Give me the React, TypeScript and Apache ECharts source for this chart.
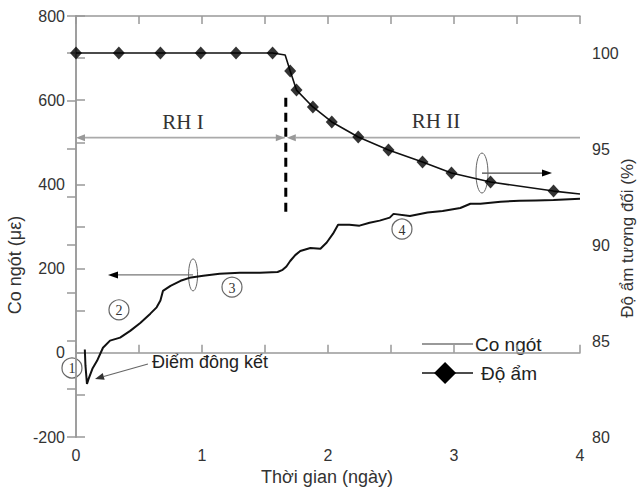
import React, { useEffect, useRef } from 'react';
import * as echarts from 'echarts';

const FONT = '"Liberation Sans", Arial, sans-serif';
const SERIF = '"Liberation Serif", "Times New Roman", serif';

// Shrinkage (left axis, µε) vs time (days)
const shrinkDays = [0.07, 0.075, 0.087, 0.1, 0.13, 0.167, 0.214, 0.27, 0.35, 0.43, 0.51, 0.59, 0.64, 0.67, 0.69, 0.75, 0.83, 0.9, 1.01, 1.14, 1.3, 1.46, 1.6, 1.64, 1.67, 1.7, 1.74, 1.78, 1.86, 1.94, 1.99, 2.04, 2.08, 2.17, 2.25, 2.33, 2.41, 2.49, 2.52, 2.65, 2.79, 2.91, 3.05, 3.13, 3.21, 3.37, 3.52, 3.65, 3.79, 4.0];
const shrinkValues = [8, -30, -74, -62, -38, -19, 12, 29, 36, 52, 71, 93, 108, 124, 147, 159, 171, 178, 183, 188, 190, 190, 192, 197, 205, 218, 232, 242, 249, 247, 262, 283, 304, 304, 302, 309, 314, 321, 330, 325, 333, 337, 344, 354, 354, 359, 361, 362, 363, 366];

// Relative humidity (right axis, %) line
const humidityDays = [0, 0.34, 0.67, 0.99, 1.27, 1.56, 1.66, 1.7, 1.75, 1.88, 2.03, 2.24, 2.48, 2.75, 2.98, 3.29, 3.79, 4.0];
const humidityValues = [100, 100, 100, 100, 100, 100, 99.9, 99.06, 98.07, 97.19, 96.41, 95.63, 94.95, 94.32, 93.75, 93.28, 92.81, 92.66];

// Humidity measurement markers (diamonds)
const markerDays = [0, 0.34, 0.67, 0.99, 1.27, 1.56, 1.7, 1.75, 1.88, 2.03, 2.24, 2.48, 2.75, 2.98, 3.29, 3.79];
const markerValues = [100, 100, 100, 100, 100, 100, 99.06, 98.07, 97.19, 96.41, 95.63, 94.95, 94.32, 93.75, 93.28, 92.81];

const xLabels = ['0', '1', '2', '3', '4'];
const leftLabels = ['-200', '0', '200', '400', '600', '800'];
const rightLabels = ['80', '85', '90', '95', '100'];

const seriesNames = ['Co ngót', 'Độ ẩm'];
const axisNames = ['Thời gian (ngày)', 'Co ngót (με)', 'Độ ẩm tương đối (%)'];

const AX = '#999';

function arrow(x1: number, y1: number, x2: number, y2: number, head: string, line: string, lw: number, len = 9, half = 3.5) {
  const dx = x2 - x1, dy = y2 - y1;
  const L = Math.hypot(dx, dy) || 1;
  const ux = dx / L, uy = dy / L;
  const bx = x2 - ux * len, by = y2 - uy * len;
  const px = -uy * half, py = ux * half;
  return [
    { type: 'line', silent: true, shape: { x1, y1, x2: bx, y2: by }, style: { stroke: line, lineWidth: lw } },
    { type: 'polygon', silent: true, shape: { points: [[x2, y2], [bx + px, by + py], [bx - px, by - py]] }, style: { fill: head } },
  ];
}

export default function App() {
  const ref = useRef<HTMLDivElement>(null);
  useEffect(() => {
    const chart = echarts.init(ref.current!, null, { renderer: 'svg' });
    const tickStyle = { color: AX, width: 1.5 };
    const option: any = {
      animation: false,
      backgroundColor: '#fff',
      grid: { left: 76, right: 57, top: 16, bottom: 52 },
      xAxis: [
        {
          type: 'value', min: 0, max: 4, interval: 0.5, position: 'bottom',
          axisLine: { show: true, lineStyle: tickStyle },
          axisTick: { show: true, inside: true, length: 8, lineStyle: tickStyle },
          axisLabel: {
            margin: 10, fontSize: 16, color: '#333', fontFamily: FONT,
            formatter: (v: number) => (Number.isInteger(v) && xLabels.includes(String(v)) ? String(v) : ''),
          },
          splitLine: { show: false },
        },
        {
          type: 'value', min: 0, max: 4, interval: 0.5, position: 'top',
          axisLine: { show: true, lineStyle: tickStyle },
          axisTick: { show: true, inside: true, length: 8, lineStyle: tickStyle },
          axisLabel: { show: false },
          splitLine: { show: false },
        },
      ],
      yAxis: [
        {
          type: 'value', min: -200, max: 800, interval: 100, position: 'left',
          axisLine: { show: true, lineStyle: tickStyle },
          axisTick: { show: true, inside: true, length: 9, lineStyle: tickStyle },
          axisLabel: {
            margin: 11, fontSize: 16, color: '#333', fontFamily: FONT,
            formatter: (v: number) => (leftLabels.includes(String(v)) ? String(v) : ''),
          },
          splitLine: { show: false },
        },
        {
          type: 'value', min: 80, max: 101.93, interval: 2.5, position: 'right',
          axisLine: { show: true, lineStyle: tickStyle },
          axisTick: { show: true, inside: true, length: 9, lineStyle: tickStyle },
          axisLabel: {
            margin: 12, fontSize: 16, color: '#333', fontFamily: FONT,
            formatter: (v: number) => (rightLabels.includes(String(v)) ? String(v) : ''),
          },
          splitLine: { show: false },
        },
      ],
      series: [
        {
          name: seriesNames[0], type: 'line', xAxisIndex: 0, yAxisIndex: 0,
          data: shrinkDays.map((d, i) => [d, shrinkValues[i]]),
          showSymbol: false, symbol: 'none',
          lineStyle: { color: '#111', width: 2 }, z: 3,
        },
        {
          name: seriesNames[1], type: 'line', xAxisIndex: 0, yAxisIndex: 1,
          data: humidityDays.map((d, i) => [d, humidityValues[i]]),
          showSymbol: false, symbol: 'none',
          lineStyle: { color: '#111', width: 1.6 }, z: 3,
        },
        {
          name: seriesNames[1] + ' ', type: 'scatter', xAxisIndex: 0, yAxisIndex: 1,
          data: markerDays.map((d, i) => [d, markerValues[i]]),
          symbol: 'diamond', symbolSize: [12, 13],
          itemStyle: { color: '#000' }, z: 4, clip: false,
        },
      ],
    };
    chart.setOption(option);

    const P = (d: number, v: number) => chart.convertToPixel({ xAxisIndex: 0, yAxisIndex: 0 }, [d, v]) as number[];
    const els: any[] = [];

    // vertical dashed line (change of RH regime)
    const [dx1, dy1] = P(1.665, 606);
    const [, dy2] = P(1.665, 330);
    els.push({ type: 'line', silent: true, shape: { x1: dx1, y1: dy1, x2: dx1, y2: dy2 }, style: { stroke: '#000', lineWidth: 3, lineDash: [9, 6] } });

    // RH I / RH II double arrows
    const [ax0, ay] = P(0, 511);
    const [axm] = P(1.665, 511);
    const [ax4] = P(4, 511);
    els.push(...arrow(axm - 1, ay, ax0, ay, '#999', '#aaa', 1.8, 9, 3.5));
    els.push(...arrow(ax0, ay, axm - 1, ay, '#999', '#aaa', 1.8, 9, 3.5).slice(1));
    els.push(...arrow(ax4, ay, axm + 1, ay, '#999', '#aaa', 1.8, 9, 3.5));

    const [r1x, r1y] = P(0.849, 548);
    const [r2x, r2y] = P(2.857, 550);
    els.push({ type: 'text', silent: true, x: r1x, y: r1y, style: { text: 'RH I', font: `21px ${SERIF}`, fill: '#333', align: 'center', verticalAlign: 'middle' } });
    els.push({ type: 'text', silent: true, x: r2x, y: r2y, style: { text: 'RH II', font: `21px ${SERIF}`, fill: '#333', align: 'center', verticalAlign: 'middle' } });

    // ellipse + arrow for humidity -> right axis
    const [e1x, e1y] = P(3.222, 427);
    const [t1x] = P(3.778, 427);
    els.push(...arrow(e1x, e1y, t1x, e1y, '#000', '#444', 1.3, 10, 3.5));
    els.push({ type: 'ellipse', silent: true, shape: { cx: e1x, cy: e1y, rx: 6, ry: 20 }, style: { fill: 'none', stroke: '#666', lineWidth: 1 } });

    // ellipse + arrow for shrinkage -> left axis
    const [e2x, e2y] = P(0.929, 185);
    const [t2x] = P(0.254, 185);
    els.push(...arrow(e2x, e2y, t2x, e2y, '#000', '#777', 1.3, 10, 3.5));
    els.push({ type: 'ellipse', silent: true, shape: { cx: e2x, cy: e2y, rx: 4.5, ry: 16 }, style: { fill: 'none', stroke: '#666', lineWidth: 1 } });

    // Setting point annotation
    const [sx, sy] = P(0.603, -22);
    els.push({ type: 'text', silent: true, x: sx, y: sy, style: { text: 'Điểm đông kết', font: `18px ${FONT}`, fill: '#222', align: 'left', verticalAlign: 'middle' } });
    const [fa1x, fa1y] = P(0.571, -26.6);
    const [fa2x, fa2y] = P(0.151, -62);
    els.push(...arrow(fa1x, fa1y, fa2x, fa2y, '#333', '#666', 1.2, 9, 3.5));

    // circled stage numbers
    const stages: [string, number, number][] = [['1', -0.032, -36], ['2', 0.341, 102], ['3', 1.238, 156], ['4', 2.587, 294]];
    stages.forEach(([t, d, v]) => {
      const [cx, cy] = P(d, v);
      els.push({ type: 'circle', silent: true, shape: { cx, cy, r: 10 }, style: { fill: 'none', stroke: '#666', lineWidth: 1.2 } });
      els.push({ type: 'text', silent: true, x: cx, y: cy + 1, style: { text: t, font: `14px ${SERIF}`, fill: '#333', align: 'center', verticalAlign: 'middle' } });
    });

    // legend
    const [lx1, ly1] = P(2.746, 20.9);
    const [lx2] = P(3.151, 20.9);
    const [, ly2] = P(2.746, -48);
    const [ldx] = P(2.929, 0);
    els.push({ type: 'line', silent: true, shape: { x1: lx1, y1: ly1, x2: lx2, y2: ly1 }, style: { stroke: '#999', lineWidth: 2 } });
    els.push({ type: 'text', silent: true, x: lx2 + 2, y: ly1, style: { text: seriesNames[0], font: `19px ${FONT}`, fill: '#222', align: 'left', verticalAlign: 'middle' } });
    els.push({ type: 'line', silent: true, shape: { x1: lx1, y1: ly2, x2: lx2, y2: ly2 }, style: { stroke: '#111', lineWidth: 1.6 } });
    els.push({ type: 'polygon', silent: true, shape: { points: [[ldx, ly2 - 11], [ldx + 11, ly2], [ldx, ly2 + 11], [ldx - 11, ly2]] }, style: { fill: '#000' } });
    els.push({ type: 'text', silent: true, x: lx2 + 8, y: ly2, style: { text: seriesNames[1], font: `19px ${FONT}`, fill: '#222', align: 'left', verticalAlign: 'middle' } });

    // axis names
    els.push({ type: 'text', silent: true, x: 327, y: 477, style: { text: axisNames[0], font: `18px ${FONT}`, fill: '#333', align: 'center', verticalAlign: 'middle' } });
    els.push({ type: 'text', silent: true, x: 15, y: 265, rotation: Math.PI / 2, style: { text: axisNames[1], font: `18px ${FONT}`, fill: '#333', align: 'center', verticalAlign: 'middle' } });
    els.push({ type: 'text', silent: true, x: 627, y: 238, rotation: Math.PI / 2, style: { text: axisNames[2], font: `17px ${FONT}`, fill: '#333', align: 'center', verticalAlign: 'middle' } });

    chart.setOption({ graphic: { elements: els } });
    return () => chart.dispose();
  }, []);
  return <div ref={ref} style={{ position: 'fixed', left: 0, top: 0, width: 637, height: 489 }} />;
}
